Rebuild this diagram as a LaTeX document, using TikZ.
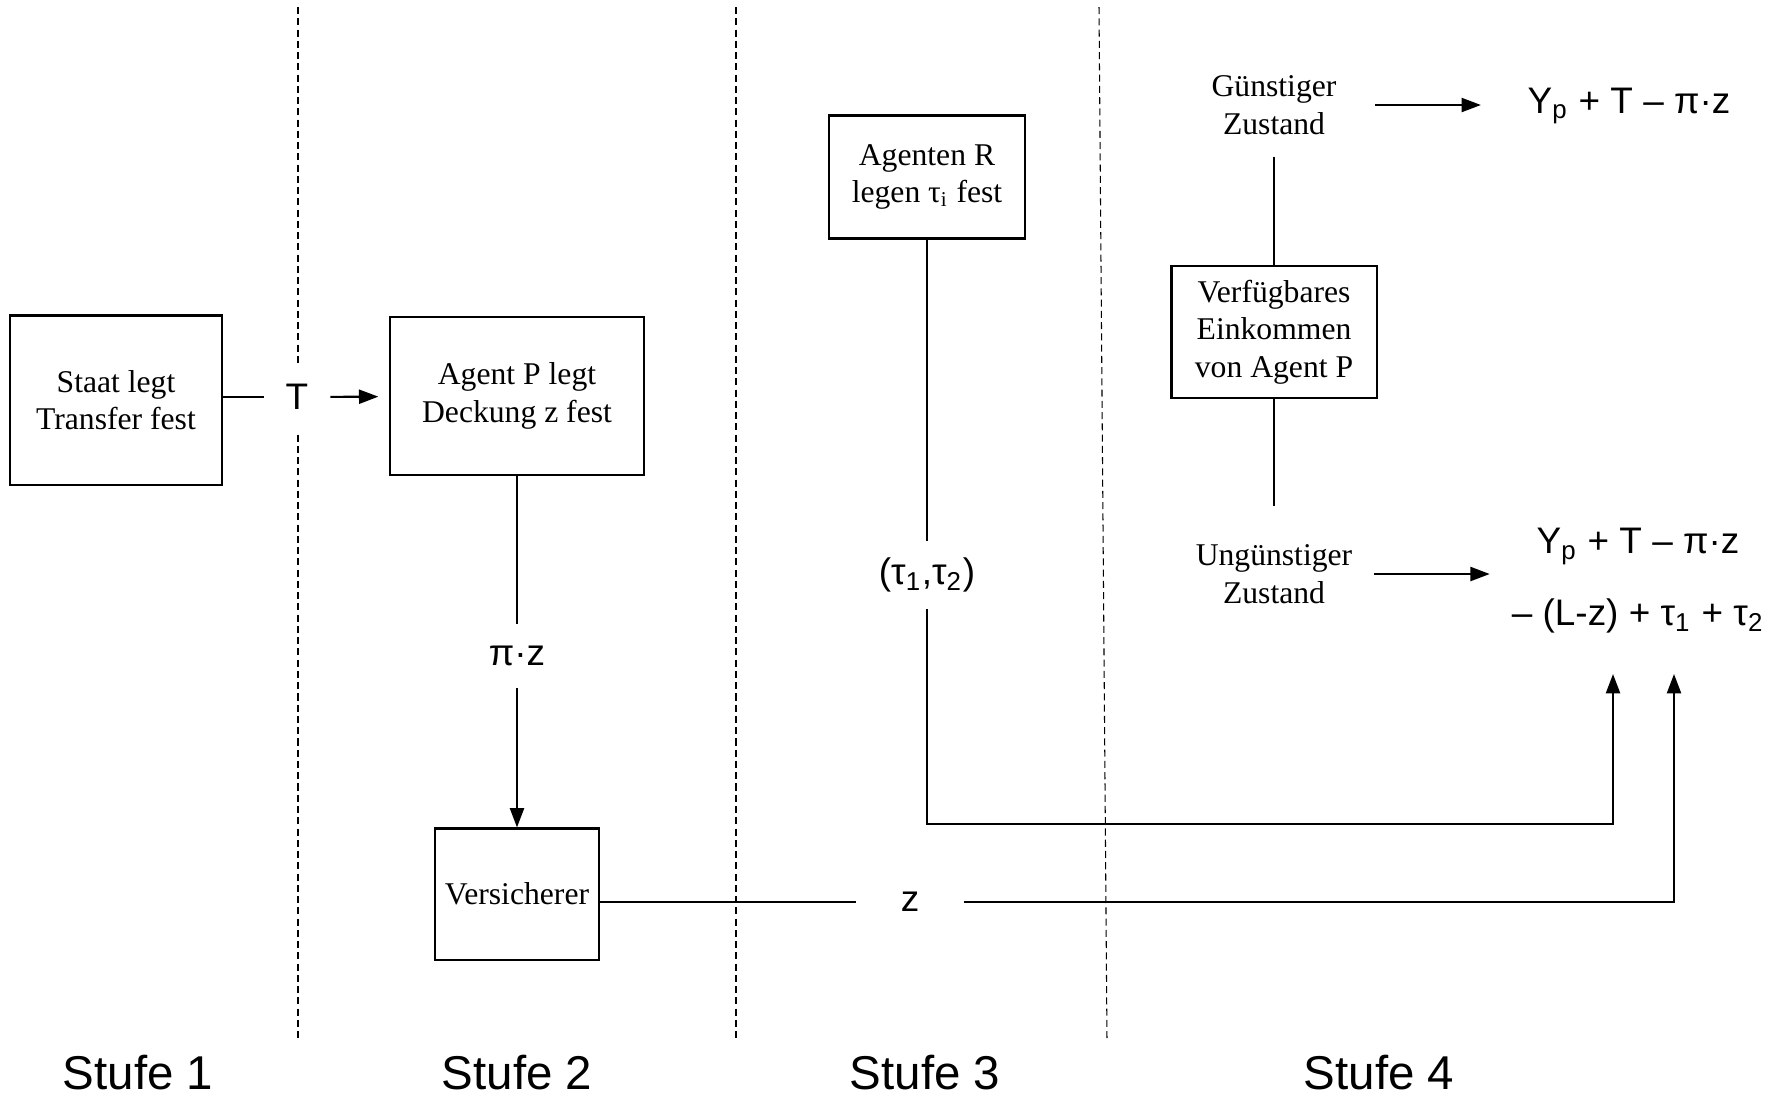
\documentclass[tikz,border=0pt]{standalone}
\usepackage{fontspec}
\setmainfont{Liberation Serif}
\newfontfamily\arial{Liberation Sans}
\usetikzlibrary{arrows.meta}

\begin{document}
\begin{tikzpicture}[x=0.01cm,y=-0.01cm,line width=0.6pt,
	box/.style={draw,line width=0.6pt,align=center,inner sep=0pt,font=\fontsize{9}{10.7}\selectfont},
	txt/.style={align=center,inner sep=6pt,font=\fontsize{9}{10.7}\selectfont},
	lbl/.style={align=center,inner sep=6pt,font=\arial\fontsize{10.5}{20.5}\selectfont},
	stufe/.style={font=\arial\fontsize{13.5}{16}\selectfont},
	sep/.style={line width=0.3pt,dash pattern=on 2pt off 1.2pt},
	arr/.style={-{Triangle[length=5.5pt,width=4pt]}}]
	\useasboundingbox (0,0) rectangle (1779,1096);
	% stages
	\draw[sep] (298,7) -- (298,1042);
	\draw[sep] (736,7) -- (736,1042);
	\draw[sep] (1099,7) -- (1107,1042);
	\node (S1) at ( 138,1073)	[stufe]	{Stufe 1};
	\node (S2) at ( 517,1073)	[stufe]	{Stufe 2};
	\node (S3) at ( 925,1073)	[stufe]	{Stufe 3};
	\node (S4) at (1379,1073)	[stufe]	{Stufe 4};
	% boxes
	\node (staat)  at ( 116, 400)	[box, minimum width=2.11cm, minimum height=1.69cm]	{Staat legt\\Transfer fest};
	\node (agentP) at ( 517, 396)	[box, minimum width=2.54cm, minimum height=1.58cm]	{Agent P legt\\Deckung z fest};
	\node (vers)   at ( 517, 894)	[box, minimum width=1.64cm, minimum height=1.31cm]	{Versicherer};
	\node (agentR) at ( 927, 177)	[box, minimum width=1.96cm, minimum height=1.23cm]	{Agenten R\\legen τ\textsubscript{i} fest};
	\node (verf)   at (1274, 332)	[box, minimum width=2.05cm, minimum height=1.32cm]	{Verfügbares\\Einkommen\\von Agent P};
	% states and payoffs
	\node (gunst)   at (1274, 105)	[txt]	{Günstiger\\Zustand};
	\node (ungunst) at (1274, 574)	[txt]	{Ungünstiger\\Zustand};
	\node (form1)   at (1629, 106)	[lbl]	{Y\textsubscript{p} + T – π·z};
	\node (form2)   at (1638, 581)	[lbl]	{Y\textsubscript{p} + T – π·z\\– (L-z) + τ\textsubscript{1} + τ\textsubscript{2}};
	% flow labels
	\node (T)   at ( 297, 397)	[lbl, fill=white]	{T};
	\node (pz)  at ( 517, 656)	[lbl]	{π·z};
	\node (z)   at ( 910, 902)	[lbl, inner xsep=12.3pt]	{z};
	\node (tau) at ( 927, 575)	[lbl, inner ysep=4.5pt]	{(τ\textsubscript{1},τ\textsubscript{2})};
	\coordinate (k1) at (1613, 824);
	\coordinate (a1) at (1613, 674);
	\coordinate (a2) at (1674, 674);
	% connectors
	\draw (staat.east |- T) -- (T);
	\draw[arr, shorten >=3pt] (T) -- (agentP);
	\draw (agentP) -- (pz);
	\draw[arr] (pz) -- (vers);
	\draw (vers.east |- z) -- (z);
	\draw[arr] (z) -| (a2);
	\draw (agentR) -- (tau);
	\draw[arr] (tau) |- (k1) -- (a1);
	\draw (gunst) -- (verf);
	\draw[shorten >=4.8pt] (verf) -- (ungunst);
	\draw[arr, shorten <=4.8pt, shorten >=7pt] (gunst) -- (gunst -| form1.west);
	\draw[arr] (ungunst) -- (ungunst -| form2.west);
\end{tikzpicture}
\end{document}
